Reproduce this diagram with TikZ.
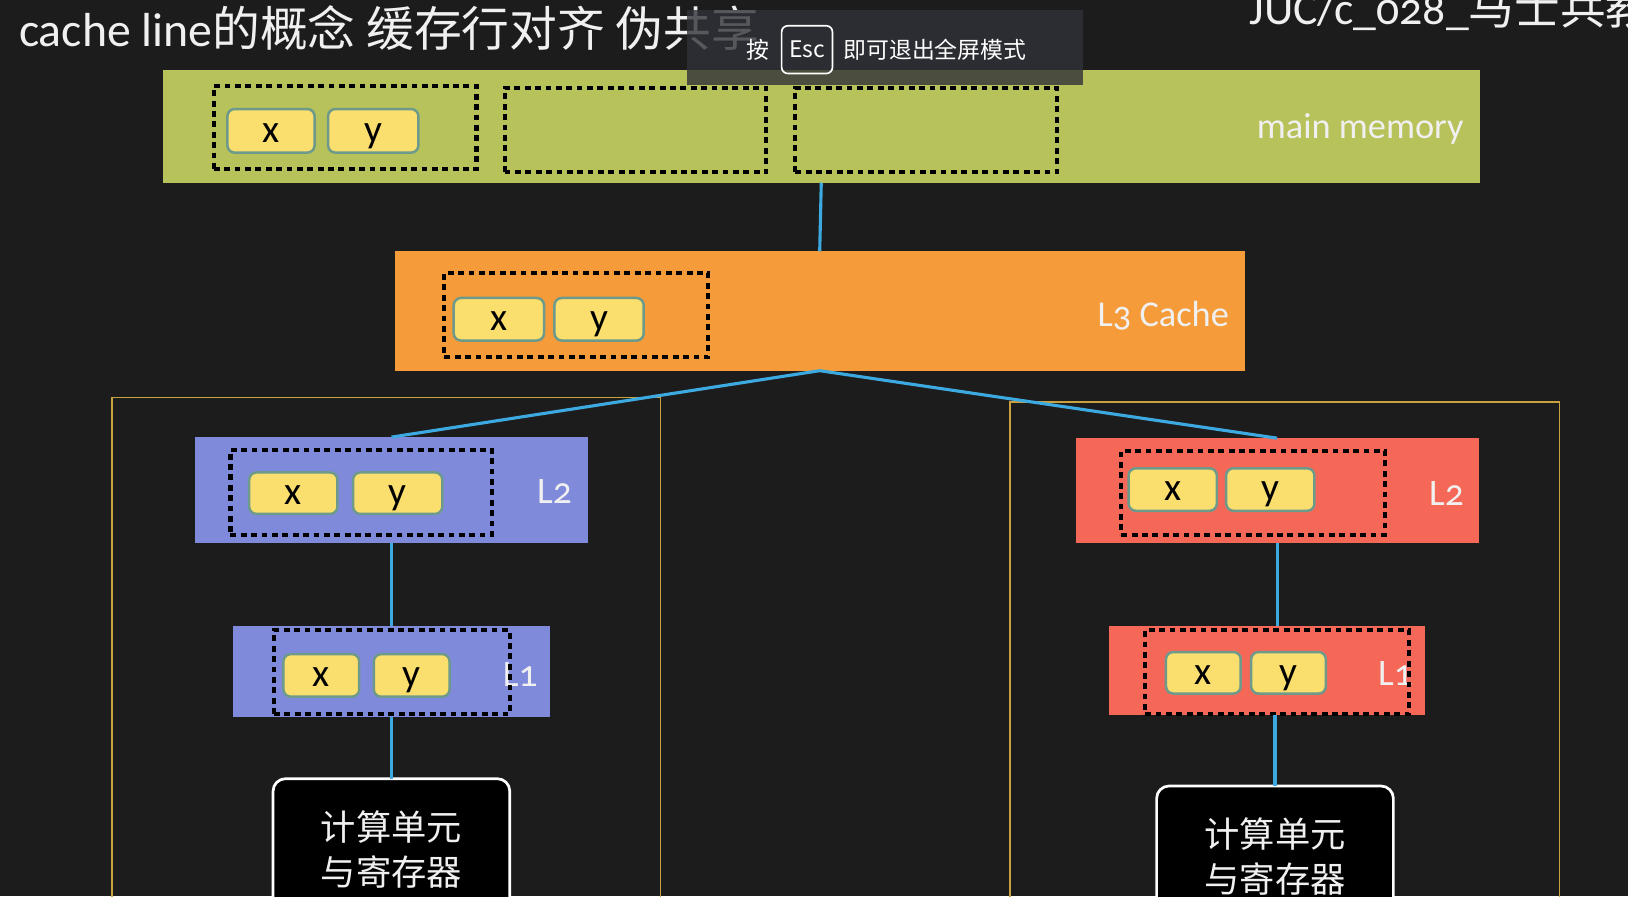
\documentclass[tikz,border=0pt]{standalone}
\usepackage{fontspec}
\setmainfont{Carlito}[Numbers=OldStyle]
\newfontfamily\cjk{Noto Sans CJK SC}
\definecolor{bg}{HTML}{1C1C1C}
\definecolor{mmgreen}{HTML}{B8C25A}
\definecolor{l3orange}{HTML}{F59B3A}
\definecolor{purp}{HTML}{808ADA}
\definecolor{redc}{HTML}{F56858}
\definecolor{yel}{HTML}{FADE6E}
\definecolor{yelborder}{HTML}{6E9A8C}
\definecolor{linkblue}{HTML}{3CAAE0}
\definecolor{gold}{HTML}{C9A13F}
\definecolor{ovl}{HTML}{303238}
\definecolor{txtw}{HTML}{F0F0F0}
\newcommand\mybox[6]{\node[#2,anchor=north west,inner sep=0pt,outer sep=0pt,minimum width={(#5-#3)*0.5pt},minimum height={(#6-#4)*0.5pt}] (#1) at (#3,#4) {};}
\newcommand\myxy[6]{\node[xybox,anchor=north west,outer sep=0pt,minimum width={(#4-#2)*0.5pt},minimum height={(#5-#3)*0.5pt}] (#1) at (#2,#3) {#6};}
\begin{document}
\begin{tikzpicture}[x=0.5pt,y=-0.5pt,
  mmbox/.style={fill=mmgreen},
  l3box/.style={fill=l3orange},
  purpbox/.style={fill=purp},
  redbox/.style={fill=redc},
  dotbox/.style={draw=black,line width=2pt,dash pattern=on 2.8pt off 2.2pt},
  xybox/.style={fill=yel,draw=yelborder,line width=1.2pt,rounded corners=3.5pt,text=black,
     font=\fontsize{19}{20}\selectfont,text height=11pt,text depth=0pt,inner sep=0pt},
  frame/.style={draw=gold,line width=0.8pt},
  cpu/.style={fill=black,draw=white,line width=1.3pt,rounded corners=6pt},
  link/.style={draw=linkblue,line width=1.5pt},
  lbl/.style={text=txtw,inner sep=0pt,font=\fontsize{18}{20}\selectfont},
  biglbl/.style={text=txtw,inner sep=0pt,font=\fontsize{17.5}{20}\selectfont},
  cputxt/.style={text=txtw,align=center,inner sep=0pt,font=\cjk\fontsize{17}{21.5}\selectfont},
]
\useasboundingbox (0,0) rectangle (1568,863);
\clip (0,0) rectangle (1568,863);
\fill[bg] (0,0) rectangle (1568,863);

% frames
\mybox{framel}{frame}{108}{383}{636}{930}
\mybox{framer}{frame}{973}{387}{1502}{930}

% main memory
\mybox{mm}{mmbox}{157}{67}{1425}{176}
\node[biglbl,anchor=base east] (mmlbl) at (1410,133) {main memory};
\mybox{mmd1}{dotbox}{206}{83}{459}{163}
\mybox{mmd2}{dotbox}{486}{85}{738}{166}
\mybox{mmd3}{dotbox}{766}{85}{1018}{166}
\myxy{mmx}{219}{105}{303}{147}{x}
\myxy{mmy}{316}{105}{403}{147}{y}

% L3
\mybox{l3}{l3box}{380}{242}{1199}{357}
\node[biglbl,anchor=base east] (l3lbl) at (1184,314) {L3 Cache};
\mybox{l3d}{dotbox}{428}{263}{682}{344}
\myxy{l3x}{437}{287}{524}{328}{x}
\myxy{l3y}{534}{287}{620}{328}{y}

% left core
\mybox{l2l}{purpbox}{188}{421}{566}{523}
\node[lbl,anchor=base west] (l2llbl) at (517,485) {L2};
\mybox{l2ld}{dotbox}{222}{433}{474}{515}
\myxy{l2lx}{240}{455}{325}{495}{x}
\myxy{l2ly}{340}{455}{426}{495}{y}

\mybox{l1l}{purpbox}{224}{603}{530}{691}
\node[lbl,anchor=base west] (l1llbl) at (484,661) {L1};
\mybox{l1ld}{dotbox}{264}{607}{491}{688}
\myxy{l1lx}{273}{630}{346}{671}{x}
\myxy{l1ly}{360}{630}{433}{671}{y}

\mybox{cl}{cpu}{263}{750}{491}{930}
\node[cputxt] (cltxt) at (377,818) {计算单元\\与寄存器};

% right core
\mybox{l2r}{redbox}{1036}{422}{1424}{523}
\node[lbl,anchor=base west] (l2rlbl) at (1376,487) {L2};
\mybox{l2rd}{dotbox}{1080}{434}{1334}{515}
\myxy{l2rx}{1087}{451}{1172}{492}{x}
\myxy{l2ry}{1181}{451}{1266}{492}{y}

\mybox{l1r}{redbox}{1068}{603}{1372}{689}
\node[lbl,anchor=base west] (l1rlbl) at (1327,660) {L1};
\mybox{l1rd}{dotbox}{1103}{607}{1357}{688}
\myxy{l1rx}{1123}{628}{1195}{668}{x}
\myxy{l1ry}{1205}{628}{1277}{668}{y}

\mybox{cr}{cpu}{1114}{757}{1342}{930}
\node[cputxt] (crtxt) at (1228,825) {计算单元\\与寄存器};

% connectors
\draw[link] (mm.south) -- (l3.north);
\draw[link] (l3.south) -- (l2l.north);
\draw[link] (l3.south) -- (l2r.north);
\draw[link] (l2l.south) -- (l1l.north);
\draw[link] (l1l.south) -- (cl.north);
\draw[link] (l2r.south) -- (l2r.south |- l1r.north);
\draw[link] (cr.north |- l1r.south) -- (cr.north);

% title
\node[anchor=base west,inner sep=0pt,text=txtw,font=\fontsize{23}{28}\selectfont] (title) at (18,45)
  {cache line{\cjk 的概念 缓存行对齐 伪共享}};
\node[anchor=base west,inner sep=0pt,text=txtw,font=\fontsize{22}{26}\selectfont] (juc) at (1203,24)
  {JUC/c\_028\_{\cjk 马士兵教育}};

% fullscreen overlay
\fill[ovl,opacity=0.8] (662,10) rectangle (1043,82);
\node[draw=white,line width=0.8pt,rounded corners=3pt,anchor=north west,inner sep=0pt,
  minimum width=24.5pt,minimum height=23pt,text=white,font=\cjk\fontsize{11}{13}\selectfont] (esc) at (752,24) {Esc};
\node[text=white,inner sep=0pt,font=\cjk\fontsize{11}{13}\selectfont] (an) at (730,48) {按};
\node[text=white,inner sep=0pt,anchor=west,font=\cjk\fontsize{11}{13}\selectfont] (exit) at (812,48) {即可退出全屏模式};
\end{tikzpicture}
\end{document}
